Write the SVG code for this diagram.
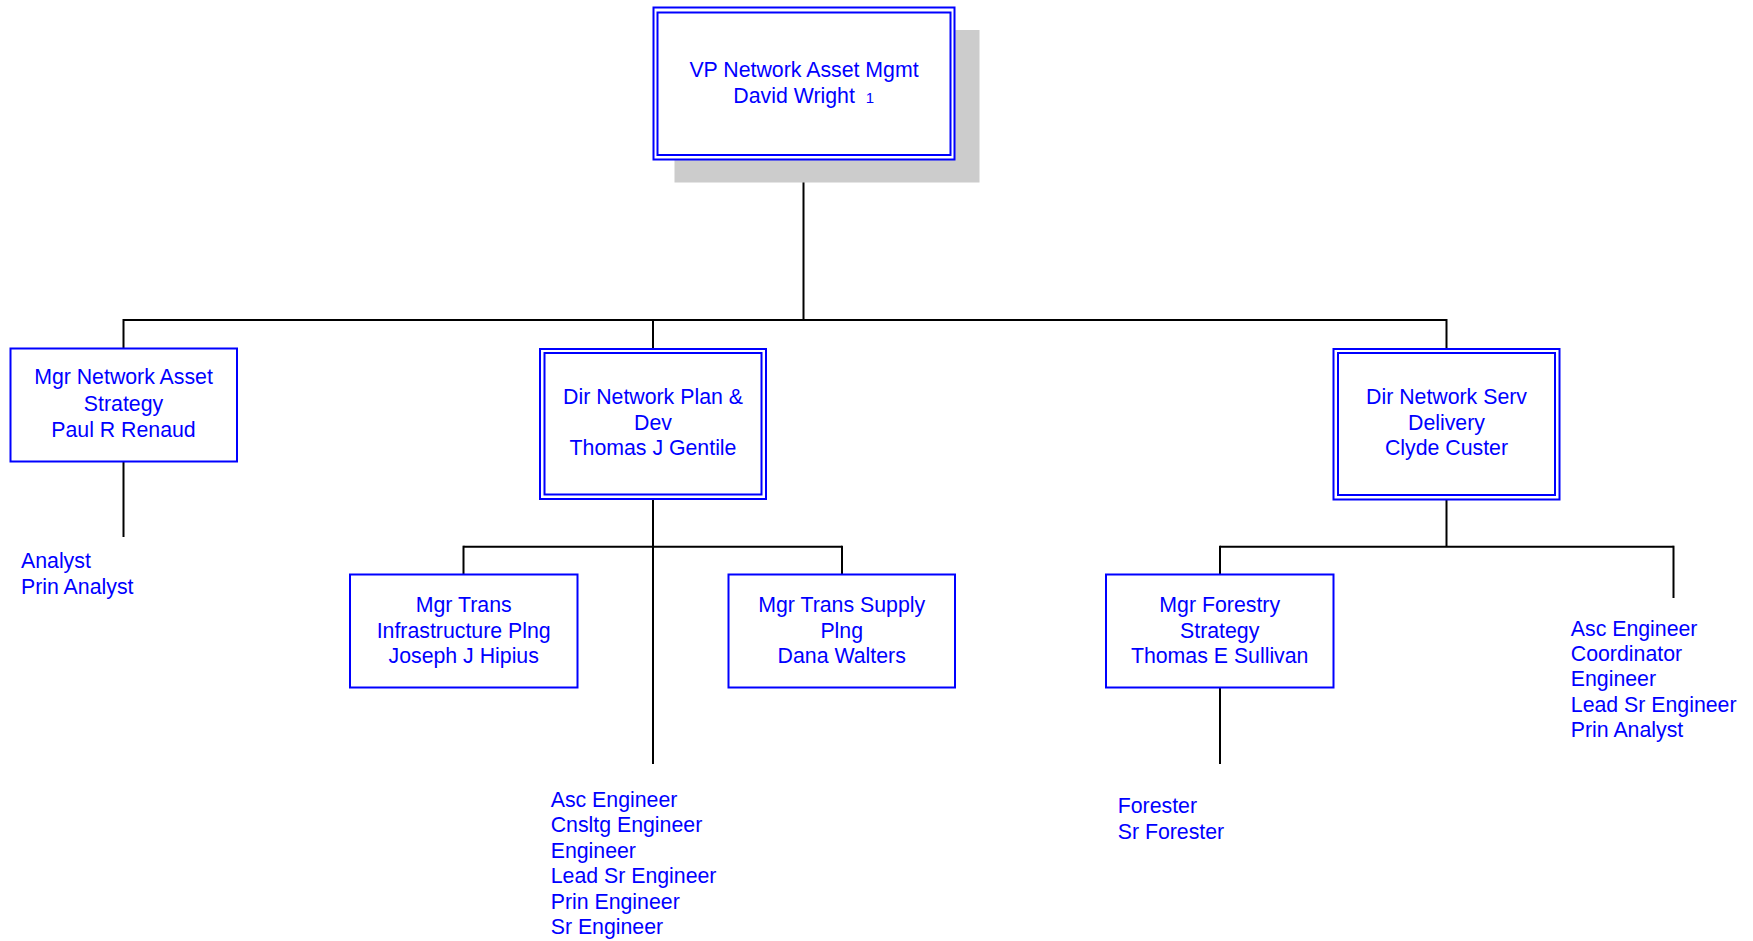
<svg xmlns="http://www.w3.org/2000/svg" width="1753" height="941" viewBox="0 0 1753 941">
<style>
  .box { fill: #ffffff; stroke: #0000ff; stroke-width: 2; }
  .inner { fill: none; stroke: #0000ff; stroke-width: 2; }
  .t { font-family: "Liberation Sans", Arial, sans-serif; font-size: 21.3px; fill: #0000ff; }
  .c { text-anchor: middle; }
  .small { font-size: 15px; }
  .conn line { stroke: #000000; stroke-width: 2; }
</style>
<rect width="1753" height="941" fill="#ffffff"/>
<g id="connectors" class="conn">
  <line x1="803.5" y1="160" x2="803.5" y2="320"/>
  <line x1="123.5" y1="320" x2="1446.5" y2="320"/>
  <line x1="123.5" y1="319" x2="123.5" y2="348"/>
  <line x1="653" y1="319" x2="653" y2="349"/>
  <line x1="1446.5" y1="319" x2="1446.5" y2="349"/>
  <line x1="123.5" y1="462" x2="123.5" y2="537"/>
  <line x1="653" y1="499" x2="653" y2="764"/>
  <line x1="463.5" y1="546.7" x2="842" y2="546.7"/>
  <line x1="463.5" y1="545.7" x2="463.5" y2="574"/>
  <line x1="842" y1="545.7" x2="842" y2="574"/>
  <line x1="1446.5" y1="500" x2="1446.5" y2="547"/>
  <line x1="1220" y1="546.7" x2="1673.5" y2="546.7"/>
  <line x1="1220" y1="545.7" x2="1220" y2="574"/>
  <line x1="1673.5" y1="545.7" x2="1673.5" y2="598"/>
  <line x1="1220" y1="688" x2="1220" y2="764"/>
</g>
<g id="node-vp">
  <rect x="674.5" y="30" width="305" height="152.5" fill="#cccccc"/>
  <rect class="box" x="653.5" y="7.5" width="301" height="152"/>
  <rect class="inner" x="657.5" y="12.5" width="293" height="142.5"/>
  <text class="t c" x="804" y="76.7">VP Network Asset Mgmt</text>
  <text class="t" x="733.3" y="103.3">David Wright <tspan class="small" dx="5">1</tspan></text>
</g>
<g id="node-mgr-nas">
  <rect class="box" x="10.5" y="348.5" width="226.5" height="113"/>
  <text class="t c" x="123.5" y="384.3">Mgr Network Asset</text>
  <text class="t c" x="123.5" y="410.5">Strategy</text>
  <text class="t c" x="123.5" y="436.7">Paul R Renaud</text>
</g>
<g id="list-nas">
  <text class="t" x="21" y="567.7">Analyst</text>
  <text class="t" x="21" y="594.3">Prin Analyst</text>
</g>
<g id="node-dir-npd">
  <rect class="box" x="540" y="349" width="226" height="150"/>
  <rect class="inner" x="544.5" y="353" width="217" height="141.5"/>
  <text class="t c" x="653" y="404.3">Dir Network Plan &amp;</text>
  <text class="t c" x="653" y="429.8">Dev</text>
  <text class="t c" x="653" y="455.3">Thomas J Gentile</text>
</g>
<g id="node-dir-nsd">
  <rect class="box" x="1333.5" y="349" width="226" height="150.5"/>
  <rect class="inner" x="1338" y="353" width="217" height="142"/>
  <text class="t c" x="1446.5" y="404.3">Dir Network Serv</text>
  <text class="t c" x="1446.5" y="429.8">Delivery</text>
  <text class="t c" x="1446.5" y="455.3">Clyde Custer</text>
</g>
<g id="node-mgr-tip">
  <rect class="box" x="350" y="574.5" width="227.5" height="113"/>
  <text class="t c" x="463.7" y="611.7">Mgr Trans</text>
  <text class="t c" x="463.7" y="637.5">Infrastructure Plng</text>
  <text class="t c" x="463.7" y="662.7">Joseph J Hipius</text>
</g>
<g id="node-mgr-tsp">
  <rect class="box" x="728.5" y="574.5" width="226.5" height="113"/>
  <text class="t c" x="841.7" y="611.7">Mgr Trans Supply</text>
  <text class="t c" x="841.7" y="637.5">Plng</text>
  <text class="t c" x="841.7" y="662.7">Dana Walters</text>
</g>
<g id="list-npd">
  <text class="t" x="550.7" y="806.7">Asc Engineer</text>
  <text class="t" x="550.7" y="832.2">Cnsltg Engineer</text>
  <text class="t" x="550.7" y="857.6">Engineer</text>
  <text class="t" x="550.7" y="883.0">Lead Sr Engineer</text>
  <text class="t" x="550.7" y="908.5">Prin Engineer</text>
  <text class="t" x="550.7" y="934">Sr Engineer</text>
</g>
<g id="node-mgr-fs">
  <rect class="box" x="1106" y="574.5" width="227.5" height="113"/>
  <text class="t c" x="1219.7" y="611.7">Mgr Forestry</text>
  <text class="t c" x="1219.7" y="637.5">Strategy</text>
  <text class="t c" x="1219.7" y="662.5">Thomas E Sullivan</text>
</g>
<g id="list-fs">
  <text class="t" x="1117.7" y="813.3">Forester</text>
  <text class="t" x="1117.7" y="839.3">Sr Forester</text>
</g>
<g id="list-nsd">
  <text class="t" x="1570.8" y="636">Asc Engineer</text>
  <text class="t" x="1570.8" y="661.2">Coordinator</text>
  <text class="t" x="1570.8" y="686.4">Engineer</text>
  <text class="t" x="1570.8" y="711.6">Lead Sr Engineer</text>
  <text class="t" x="1570.8" y="736.8">Prin Analyst</text>
</g>
</svg>
